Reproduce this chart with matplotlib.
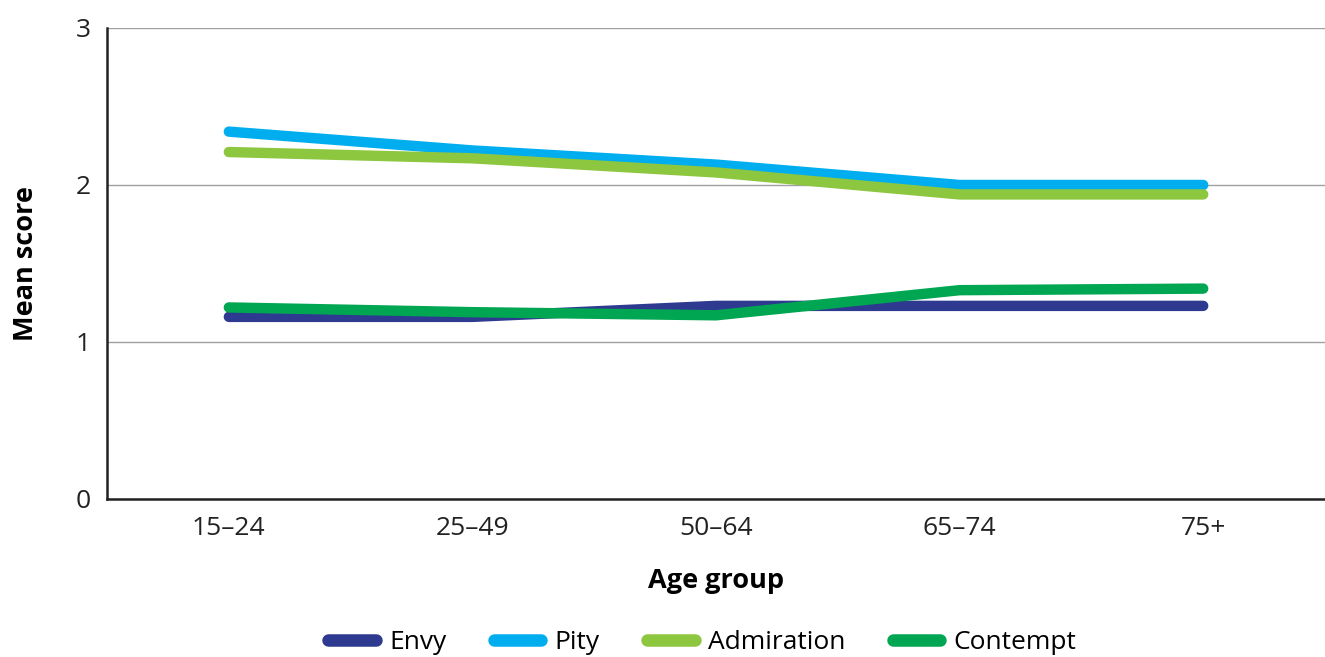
import matplotlib.pyplot as plt
import numpy as np

age_groups = ["15–24", "25–49", "50–64", "65–74", "75+"]
envy = [1.16, 1.16, 1.23, 1.23, 1.23]
pity = [2.34, 2.22, 2.13, 2.00, 2.00]
admiration = [2.21, 2.17, 2.08, 1.94, 1.94]
contempt = [1.22, 1.19, 1.17, 1.33, 1.34]

series = [
    ("Envy", envy, "#2e3a8f"),
    ("Pity", pity, "#00aeef"),
    ("Admiration", admiration, "#8dc63f"),
    ("Contempt", contempt, "#00a651"),
]

plt.rcParams['font.family'] = ['Open Sans', 'DejaVu Sans']

fig = plt.figure(figsize=(13.25, 6.57), dpi=100)
ax = fig.add_axes([0.0808, 0.2405, 0.9192, 0.7169])

x = np.arange(len(age_groups))
for name, vals, col in series:
    ax.plot(x, vals, color=col, lw=7.5, solid_capstyle='round',
            solid_joinstyle='round', label=name, zorder=3)

ax.set_xlim(-0.5, 4.5)
ax.set_ylim(0, 3)
ax.set_yticks([0, 1, 2, 3])
ax.set_xticks(x)
ax.set_xticklabels(age_groups)
ax.tick_params(length=0, labelsize=19, colors='#222222')
ax.tick_params(axis='x', pad=12)
ax.tick_params(axis='y', pad=12)
ax.grid(axis='y', color='#a0a0a0', lw=1)
ax.set_axisbelow(True)

for s in ['top', 'right']:
    ax.spines[s].set_visible(False)
for s in ['left', 'bottom']:
    ax.spines[s].set_color('#222222')
    ax.spines[s].set_linewidth(1.8)

ax.set_ylabel("Mean score", fontsize=19.5, fontweight='bold', labelpad=26)
ax.set_xlabel("Age group", fontsize=19.5, fontweight='bold', labelpad=20)

leg = fig.legend(loc='lower center', bbox_to_anchor=(0.53, -0.033), ncol=4,
                 frameon=False, fontsize=19, handlelength=1.8,
                 columnspacing=1.8, handletextpad=0.5)
for h in leg.get_lines():
    h.set_linewidth(9)

fig.savefig("out.png", dpi=100)
